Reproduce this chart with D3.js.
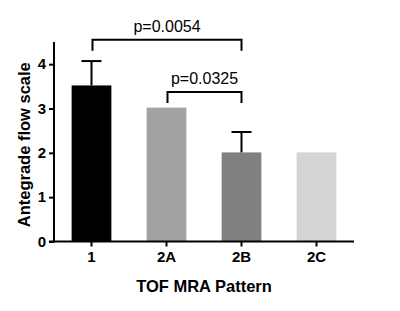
<!DOCTYPE html>
<html><head><meta charset="utf-8">
<script src="https://cdn.jsdelivr.net/npm/d3@7"></script>
<style>body{margin:0;background:#fff}svg{display:block}text{font-family:"Liberation Sans",Arial,sans-serif}</style>
</head><body><svg id="c" width="400" height="311"></svg>
<script>
const categories = ["1","2A","2B","2C"];
const means = [3.52, 3.02, 2.01, 2.01];
const errors = [0.55, 0, 0.46, 0];
const colors = ["#000000","#a2a2a4","#808080","#d4d4d4"];
const yTicks = [0,1,2,3,4];
const comparisons = [
  {from:"1", to:"2B", label:"p=0.0054", level:4.55},
  {from:"2A", to:"2B", label:"p=0.0325", level:3.37}
];

const svg = d3.select("#c");
const mLeft = 54, mRight = 354, mTop = 42, mBottom = 241.5;
const x = d3.scaleBand().domain(categories).range([mLeft, mRight]).paddingInner(0.47).paddingOuter(0.235);
const y = d3.scaleLinear().domain([0, 4.5]).range([mBottom, mTop]);

// bars
svg.selectAll("rect.bar").data(categories).join("rect")
  .attr("x", d => x(d)).attr("width", x.bandwidth())
  .attr("y", (d,i) => y(means[i])).attr("height", (d,i) => y(0) - y(means[i]))
  .attr("fill", (d,i) => colors[i]);

// error bars
categories.forEach((c,i) => {
  if (!errors[i]) return;
  const cx = x(c) + x.bandwidth()/2;
  svg.append("line").attr("x1",cx).attr("x2",cx).attr("y1",y(means[i])).attr("y2",y(means[i]+errors[i]))
    .attr("stroke","#000").attr("stroke-width",2);
  svg.append("line").attr("x1",cx-10).attr("x2",cx+10).attr("y1",y(means[i]+errors[i])).attr("y2",y(means[i]+errors[i]))
    .attr("stroke","#000").attr("stroke-width",2);
});

// axes
const yAxis = d3.axisLeft(y).tickValues(yTicks).tickFormat(d3.format("d")).tickSizeOuter(0).tickSize(5).tickPadding(3);
const gy = svg.append("g").attr("transform",`translate(${mLeft},0)`).call(yAxis);
const xAxis = d3.axisBottom(x).tickSizeOuter(0).tickSize(5).tickPadding(5);
const gx = svg.append("g").attr("transform",`translate(0,${mBottom})`).call(xAxis);
[gy,gx].forEach(g => {
  g.select(".domain").attr("stroke","#000").attr("stroke-width",2);
  g.selectAll(".tick line").attr("stroke","#000").attr("stroke-width",2);
  g.selectAll(".tick text").attr("fill","#000").style("font-size","15px").style("font-weight","bold")
   .style("font-family","'Liberation Sans',Arial,sans-serif");
});
gy.select(".domain").attr("d", `M0,${y(4.5)}V${mBottom+1}`);
gx.select(".domain").attr("d", `M${mLeft-5},0H${mRight}`);

// comparison brackets
comparisons.forEach(c => {
  const x1 = x(c.from) + x.bandwidth()/2 + 1, x2 = x(c.to) + x.bandwidth()/2;
  const yy = y(c.level);
  svg.append("path").attr("d", `M${x1},${yy+11}V${yy}H${x2}V${yy+11}`)
    .attr("fill","none").attr("stroke","#000").attr("stroke-width",2);
  svg.append("text").attr("x",(x1+x2)/2).attr("y",yy-8).attr("text-anchor","middle")
    .style("font-size","16px").attr("fill","#000").text(c.label);
});

// axis titles
svg.append("text").attr("transform",`translate(30,${(mTop+mBottom)/2+3}) rotate(-90)`)
  .attr("text-anchor","middle").style("font-size","16.5px").style("font-weight","bold").text("Antegrade flow scale");
svg.append("text").attr("x",(mLeft+mRight)/2).attr("y",292).attr("text-anchor","middle")
  .style("font-size","16.5px").style("font-weight","bold").text("TOF MRA Pattern");
</script></body></html>
